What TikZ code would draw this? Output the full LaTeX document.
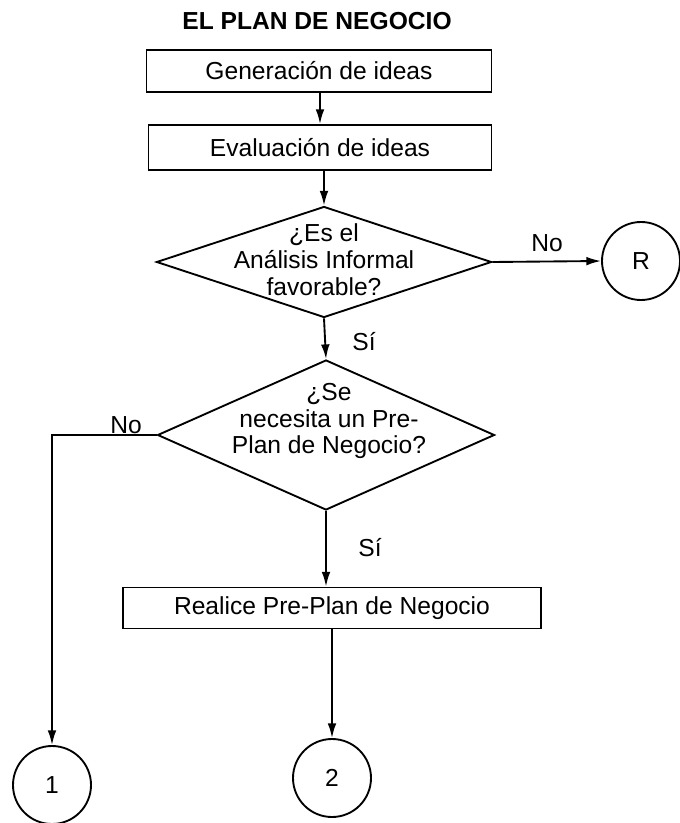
\documentclass[tikz,border=0pt]{standalone}
\usepackage{fontspec}
\setmainfont{Liberation Sans}
\usetikzlibrary{positioning, shapes.geometric, arrows.meta}

\tikzset{
  stepbox/.style={rectangle, draw, line width=0.8pt, inner sep=0pt},
  decision/.style={diamond, draw, line width=0.8pt, inner sep=0pt},
  connector/.style={circle, draw, line width=0.8pt, minimum size=1.17cm, inner sep=0pt},
  flow/.style={line width=0.8pt, -{Latex[length=2.2mm, width=1.3mm]}}
}

\begin{document}
\begin{tikzpicture}[x=0.015cm, y=-0.015cm,
  font=\fontsize{10.5}{11.5}\selectfont]
  \useasboundingbox (0,0) rectangle (679,823);

  \node[font=\fontsize{10.5}{12}\selectfont\bfseries] (title) at (317,21) {EL PLAN DE NEGOCIO};

  \node[stepbox, minimum width=5.175cm, minimum height=0.63cm] (gen) at (319,71) {Generación de ideas};
  \node[stepbox, minimum width=5.145cm, minimum height=0.675cm] (eval) at (320,147.5) {Evaluación de ideas};

  \node[decision, minimum width=5.025cm, minimum height=1.665cm] (q1) at (324,262) {};
  \node[align=center] (q1txt) at (324,260) {¿Es el\\Análisis Informal\\favorable?};

  \node[connector] (r) at (641,261) {R};

  \node[decision, minimum width=5.055cm, minimum height=2.25cm] (q2) at (326,435) {};
  \node[align=center] (q2txt) at (329,421) {¿Se\\necesita un Pre-\\Plan de Negocio?};

  \node[stepbox, minimum width=6.27cm, minimum height=0.615cm] (pre) at (332,608) {Realice Pre-Plan de Negocio};

  \node[connector] (one) at (52,785) {1};
  \node[connector] (two) at (332,778) {2};

  % labels on the branches
  \node (no1) at (547,243) {No};
  \node (si1) at (364,342) {Sí};
  \node (no2) at (126,425) {No};
  \node (si2) at (370,548) {Sí};

  \draw[flow] (gen.south -| eval.north)--(eval.north);
  \draw[flow] (eval.south -| q1.north)--(q1.north);
  \draw[flow] (q1.east)--(r.west);
  \draw[flow] (q1.south)--(q2.north);
  \draw[flow] (q2.south)--(pre.north -| q2.south);
  \draw[flow] (q2.west) -| (one.north);
  \draw[flow] (pre.south)--(two.north);
\end{tikzpicture}
\end{document}
